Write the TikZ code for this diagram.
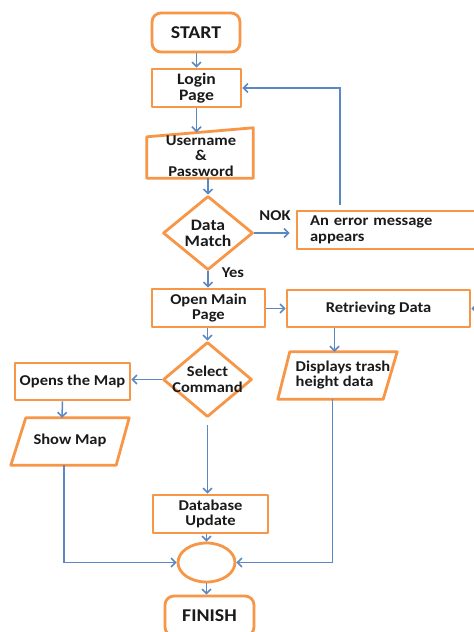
\documentclass[tikz,border=0pt]{standalone}
\usepackage{fontspec}
\setmainfont{Carlito}[FakeStretch=1.1]
\usetikzlibrary{arrows.meta,shapes.geometric}
\definecolor{ora}{HTML}{F79646}
\definecolor{blu}{HTML}{5B87C2}
\definecolor{txt}{HTML}{1A1A1A}
\tikzset{
  obox/.style={draw=ora,line width=2.8pt,line join=round},
  rbox/.style={obox,rectangle,inner sep=0pt,align=center},
  rndbox/.style={rbox,rounded corners=9pt},
  ghost/.style={draw=none,rectangle,inner sep=0pt},
  dia/.style={obox,diamond,inner sep=0pt},
  arr/.style={draw=blu,line width=1.5pt,-{Straight Barb[length=4.5pt,width=9pt]}},
  every node/.style={font=\fontsize{15}{15.5}\selectfont\bfseries,text=txt},
  lab/.style={align=center,inner sep=0pt},
  bigtxt/.style={font=\fontsize{18}{20}\selectfont\bfseries},
  midtxt/.style={font=\fontsize{16}{16}\selectfont\bfseries}
}
\begin{document}
\begin{tikzpicture}[x=1pt,y=-1pt]
\useasboundingbox (0,0) rectangle (474,632);
\clip (0,0) rectangle (474,632);
\fill[white] (0,0) rectangle (474,632);
% nodes
\node[rndbox,bigtxt,minimum width=88pt,minimum height=39pt] (start) at (196,32.5) {START};
\node[rbox,midtxt,minimum width=89pt,minimum height=38pt] (login) at (196.5,88) {Login\\Page};
\node[ghost,minimum width=106pt,minimum height=50pt] (user) at (200,153) {};
\draw[obox] ([yshift=-9pt]user.north west) -- (user.north east) -- (user.south east) -- (user.south west) -- cycle;
\node[lab] (usertxt) at (201,156) {Username\\\&\\Password};
\node[dia,minimum width=90pt,minimum height=74pt,label={[lab,midtxt]center:Data\\Match}] (dm) at (208,233) {};
\node[rbox,minimum width=206pt,minimum height=38pt,text width=180pt,align=left] (err) at (400,230) {An error message\\appears};
\node[lab] (nok) at (275,216) {NOK};
\node[lab] (yes) at (233,273) {Yes};
\node[rbox,minimum width=113pt,minimum height=38pt] (om) at (208.5,308) {Open Main\\Page};
\node[rbox,minimum width=183pt,minimum height=37pt] (ret) at (378.5,308.5) {Retrieving Data};
\node[ghost,minimum width=119pt,minimum height=47pt] (disp) at (337.5,375.5) {};
\draw[obox] ([xshift=12pt]disp.north west) -- (disp.north east) -- ([xshift=-14pt]disp.south east) -- (disp.south west) -- cycle;
\node[lab,align=left] (disptxt) at (343,375) {Displays trash\\height data};
\node[dia,minimum width=89pt,minimum height=75pt,label={[lab]center:Select\\Command}] (sc) at (207.5,379.5) {};
\node[rbox,minimum width=115pt,minimum height=37pt] (map) at (72.5,381.5) {Opens the Map};
\node[ghost,minimum width=118pt,minimum height=47pt] (show) at (70,441.5) {};
\draw[obox] ([xshift=15pt]show.north west) -- (show.north east) -- ([xshift=-13pt]show.south east) -- (show.south west) -- cycle;
\node[lab] (showtxt) at (70,440) {Show Map};
\node[rbox,minimum width=115pt,minimum height=38pt] (db) at (210.5,514) {Database\\Update};
\node[obox,ellipse,minimum width=57pt,minimum height=39pt,inner sep=0pt] (circ) at (206.5,562.5) {};
\node[rndbox,bigtxt,minimum width=89pt,minimum height=40pt] (fin) at (209.5,616) {FINISH};
\coordinate (offr) at (490,308.5);
% connectors
\draw[arr] (start.south -| login.north) -- (login.north);
\draw[arr] (login.south) -- ([yshift=-4.5pt]user.north -| login.south);
\draw[arr] (user.south -| dm.north) -- (dm.north);
\draw[arr] (dm.east) -- ([xshift=-6pt]err.west |- dm.east);
\draw[arr] ([xshift=-60pt,yshift=5pt]err.north) |- (login.east);
\draw[arr] (dm.south) -- (dm.south |- om.north);
\draw[arr] (om.east |- ret.west) -- (ret.west);
\draw[arr] (offr) -- (ret.east);
\draw[arr] ([xshift=-3pt]disp.north |- ret.south) -- ([xshift=-3pt]disp.north);
\draw[arr] (om.south -| sc.north) -- (sc.north);
\draw[arr] (sc.west) -- (sc.west -| map.east);
\draw[arr] ([xshift=-10pt]map.south) -- ([xshift=-8pt]show.north);
\draw[arr] ([yshift=-7pt]sc.south) -- (sc.south |- db.north);
\draw[arr] (circ.north |- db.south) -- (circ.north);
\draw[arr] ([xshift=-6pt]show.south) |- (circ.west);
\draw[arr] ([xshift=-5pt]disp.south) |- (circ.east);
\draw[arr] (circ.south) -- (circ.south |- fin.north);
\end{tikzpicture}
\end{document}
